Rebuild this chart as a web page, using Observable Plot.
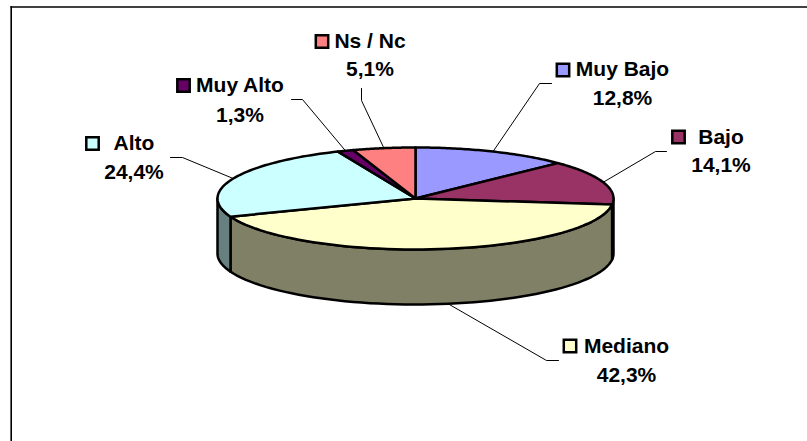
<!DOCTYPE html>
<html>
<head>
<meta charset="utf-8">
<script src="https://cdn.jsdelivr.net/npm/d3@7"></script>
<script src="https://cdn.jsdelivr.net/npm/@observablehq/plot@0.6"></script>
<style>html,body{margin:0;padding:0;background:#fff}svg{display:block}</style>
</head>
<body>
<div id="chart"></div>
<script>
// Data, clockwise from twelve o'clock
const categories = ["Muy Bajo", "Bajo", "Mediano", "Alto", "Muy Alto", "Ns / Nc"];
const shares = [12.8, 14.1, 42.3, 24.4, 1.3, 5.1];

// Styles
const topColors = ["#9999FF", "#993366", "#FFFFCC", "#CCFFFF", "#660066", "#FF8080"];
const wallColors = ["#4D4D80", "#4D1A33", "#808066", "#668080", "#330033", "#804040"];

// Layout (pixels)
const W = 807, H = 441;
const pie = {cx: 415, cy: 198, rx: 198, ry: 51, depth: 55};
const labelNameX = [622, 720.5, 626, 133.5, 239.5, 369.5];
const labelNameY = [69, 137, 346, 143, 85, 41];
const labelPctY = [98, 165, 375, 172, 115, 69];
const keyX = [562.5, 678, 569.5, 92, 183, 321.5];
const keyY = [69.5, 136.5, 345.5, 143, 85, 41];
const elbowX = [539, 655, 546, 182, 302, 361];
const elbowY = [83, 151, 360, 157, 99, 100];
const stubX = [551, 666, 558, 170, 291, 361];
const stubY = [83, 151, 360, 157, 99, 88];
const leaderNudge = [0, 0, 9, 0, 0, 0];

// Geometry derived from the values
const rows = [];
let cum = 0;
categories.forEach((name, i) => {
  rows.push({name, share: shares[i], i, a0: cum / 100 * 2 * Math.PI, a1: (cum + shares[i]) / 100 * 2 * Math.PI});
  cum += shares[i];
});
const px = a => pie.cx + pie.rx * Math.sin(a);
const py = (a, dz = 0) => pie.cy - pie.ry * Math.cos(a) + dz;
const arcSteps = (a0, a1) => d3.range(0, 61).map(k => a0 + (a1 - a0) * k / 60);

const tops = rows.flatMap(r => [
  {name: r.name, fill: topColors[r.i], x: pie.cx, y: pie.cy},
  ...arcSteps(r.a0, r.a1).map(a => ({name: r.name, fill: topColors[r.i], x: px(a), y: py(a)}))
]);
const walls = rows.flatMap(r => {
  const a0 = Math.max(r.a0, Math.PI / 2), a1 = Math.min(r.a1, 3 * Math.PI / 2);
  if (a1 <= a0) return [];
  const arc = arcSteps(a0, a1);
  return [
    ...arc.map(a => ({name: r.name, fill: wallColors[r.i], x: px(a), y: py(a)})),
    ...arc.slice().reverse().map(a => ({name: r.name, fill: wallColors[r.i], x: px(a), y: py(a, pie.depth)}))
  ];
});
// Leader lines: from the label stub to the rim at each slice's mid angle
const leaders = rows.flatMap(r => {
  const mid = (r.a0 + r.a1) / 2;
  const front = Math.cos(mid) < 0;
  return [
    {name: r.name, x: stubX[r.i], y: stubY[r.i]},
    {name: r.name, x: elbowX[r.i], y: elbowY[r.i]},
    {name: r.name, x: px(mid) + leaderNudge[r.i], y: py(mid, front ? pie.depth : 0)}
  ];
});
const fmt = v => v.toFixed(1).replace(".", ",") + "%";
const font = {fontFamily: "'Liberation Sans', Arial, sans-serif", fontWeight: "bold", fontSize: 21, fill: "#000", lineAnchor: "middle", textAnchor: "middle"};

const chart = Plot.plot({
  width: W, height: H,
  margin: 0,
  x: {domain: [0, W], range: [0, W], axis: null},
  y: {domain: [0, H], range: [0, H], axis: null},
  style: {background: "#fff"},
  marks: [
    Plot.ruleY([6.5], {x1: 10.5, x2: W, stroke: "#000", strokeWidth: 1.6}),
    Plot.ruleX([10.7], {y1: 6, y2: H, stroke: "#000", strokeWidth: 1.6}),
    Plot.line(leaders, {x: "x", y: "y", z: "name", stroke: "#000", strokeWidth: 1}),
    Plot.line(walls, {x: "x", y: "y", z: "name", fill: "fill", stroke: "#000", strokeWidth: 2.5, curve: "linear-closed", strokeLinejoin: "round"}),
    Plot.line(tops, {x: "x", y: "y", z: "name", fill: "fill", stroke: "#000", strokeWidth: 2.5, curve: "linear-closed", strokeLinejoin: "round"}),
    Plot.dot(rows, {x: r => keyX[r.i], y: r => keyY[r.i], symbol: "square", r: 7, fill: r => topColors[r.i], stroke: "#000", strokeWidth: 2.5}),
    Plot.text(rows, {x: r => labelNameX[r.i], y: r => labelNameY[r.i], text: "name", ...font}),
    Plot.text(rows, {x: r => labelNameX[r.i], y: r => labelPctY[r.i], text: r => fmt(r.share), ...font})
  ]
});
document.getElementById("chart").append(chart);
</script>
</body>
</html>
